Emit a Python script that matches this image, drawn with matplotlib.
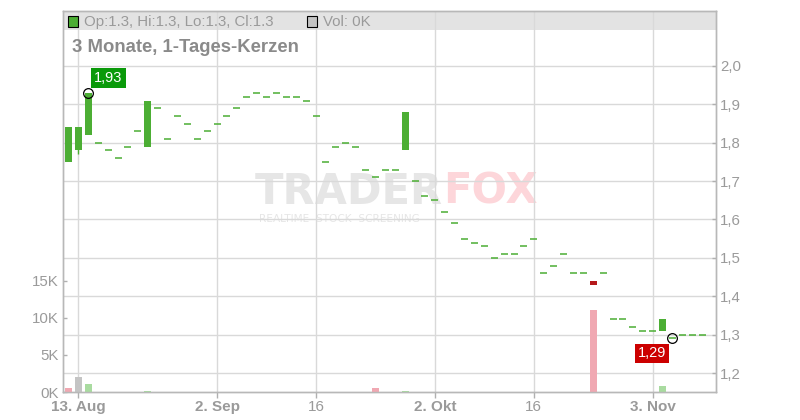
# -*- coding: utf-8 -*-
##### 3 Monate, 1-Tages-Kerzen #####

import matplotlib
matplotlib.use("Agg")
import matplotlib.pyplot as plt
from matplotlib.patches import Rectangle
from matplotlib.ticker import FuncFormatter

plt.rcParams['font.family'] = ['Liberation Sans', 'DejaVu Sans']

# Kursdaten (Handelstage, Index 0 = 12. Aug)
opens = [1.75, 1.78, 1.82, 1.80, 1.78, 1.76, 1.79, 1.83, 1.79, 1.89,
         1.81, 1.87, 1.85, 1.81, 1.83, 1.85, 1.87, 1.89, 1.92, 1.93,
         1.92, 1.93, 1.92, 1.92, 1.91, 1.87, 1.75, 1.79, 1.80, 1.79,
         1.73, 1.71, 1.73, 1.73, 1.78, 1.70, 1.66, 1.65, 1.62, 1.59,
         1.55, 1.54, 1.53, 1.50, 1.51, 1.51, 1.53, 1.55, 1.46, 1.48,
         1.51, 1.46, 1.46, 1.44, 1.46, 1.34, 1.34, 1.32, 1.31, 1.31,
         1.31, 1.29, 1.30, 1.30, 1.30]
closes = [1.84, 1.84, 1.93, 1.80, 1.78, 1.76, 1.79, 1.83, 1.91, 1.89,
          1.81, 1.87, 1.85, 1.81, 1.83, 1.85, 1.87, 1.89, 1.92, 1.93,
          1.92, 1.93, 1.92, 1.92, 1.91, 1.87, 1.75, 1.79, 1.80, 1.79,
          1.73, 1.71, 1.73, 1.73, 1.88, 1.70, 1.66, 1.65, 1.62, 1.59,
          1.55, 1.54, 1.53, 1.50, 1.51, 1.51, 1.53, 1.55, 1.46, 1.48,
          1.51, 1.46, 1.46, 1.43, 1.46, 1.34, 1.34, 1.32, 1.31, 1.31,
          1.34, 1.29, 1.30, 1.30, 1.30]
lows = [min(o, c) for o, c in zip(opens, closes)]
highs = [max(o, c) for o, c in zip(opens, closes)]
lows[1] = 1.77

# Volumen in Tausend
volumes = [0.5, 2.0, 1.05, 0, 0, 0, 0, 0, 0.12, 0,
           0, 0, 0, 0, 0, 0, 0, 0, 0, 0,
           0, 0, 0, 0, 0, 0, 0, 0, 0, 0,
           0, 0.5, 0, 0, 0.12, 0, 0, 0, 0, 0,
           0, 0, 0, 0, 0, 0, 0, 0, 0, 0,
           0, 0, 0, 11.0, 0, 0, 0, 0, 0, 0,
           0.8, 0, 0, 0, 0]

tick_idx = [1, 15, 25, 37, 47, 59]
tick_labels = ["13. Aug", "2. Sep", "16", "2. Okt", "16", "3. Nov"]
tick_bold = [True, True, False, True, False, True]

price_ticks = [1.2, 1.3, 1.4, 1.5, 1.6, 1.7, 1.8, 1.9, 2.0]
vol_ticks = [0, 5, 10, 15]

hi_idx, hi_label = 2, "1,93"
lo_idx, lo_label = 61, "1,29"

GREEN = "#4cae34"
RED = "#b5191b"
GRID = "#d9d9d9"
TXT = "#9a9a9a"

fig = plt.figure(figsize=(8, 4.2), dpi=100)
ax = fig.add_axes([63/800, 28/420, 653/800, 381/420])
ax2 = ax.twinx()

n = len(closes)
x = list(range(n))

# Kerzen
for i in x:
  o, c = opens[i], closes[i]
  col = GREEN if c >= o else RED
  if lows[i] < min(o, c) or highs[i] > max(o, c):
    ax.vlines(i, lows[i], highs[i], color=col, lw=1.0, zorder=3)
  if o == c:
    ax.hlines(c, i - 0.35, i + 0.35, color=col, lw=1.1, zorder=3)
  else:
    ax.bar(i, abs(c - o), bottom=min(o, c), width=0.7, color=col, zorder=3)

# Volumen
vcols = []
for i in x:
  if i > 0 and closes[i] > closes[i-1]:
    vcols.append("#a9dba0")
  elif i > 0 and closes[i] == closes[i-1]:
    vcols.append("#c4c4c4")
  else:
    vcols.append("#f0a8b2")
ax2.bar(x, volumes, width=0.7, color=vcols, zorder=2)

ax.set_xlim(-0.56, 65.4)
ax.set_ylim(1.1505, 2.1433)
ax2.set_ylim(0, 51.3)

ax.yaxis.tick_right()
ax2.yaxis.tick_left()
ax.set_yticks(price_ticks)
ax2.set_yticks(vol_ticks)
ax.yaxis.set_major_formatter(FuncFormatter(lambda v, p: ("%.1f" % v).replace(".", ",")))
ax2.yaxis.set_major_formatter(FuncFormatter(lambda v, p: "%dK" % v))
ax.set_xticks(tick_idx)
ax.set_xticklabels(tick_labels)
for lab, b in zip(ax.get_xticklabels(), tick_bold):
  lab.set_fontweight("bold" if b else "normal")

ax.set_axisbelow(True)
ax.grid(True, color=GRID, lw=1.0)
ax.tick_params(axis="y", direction="in", length=3, width=1, color="#b0b0b0",
               labelsize=10.8, labelcolor=TXT, pad=3)
ax2.tick_params(axis="y", direction="in", length=3, width=1, color="#b0b0b0",
                labelsize=10.8, labelcolor=TXT, pad=3)
ax.tick_params(axis="x", direction="out", length=4, width=1, color="#b0b0b0",
               labelsize=11, labelcolor=TXT, pad=2)
for a in (ax, ax2):
  for s in a.spines.values():
    s.set_color("#b8b8b8")
    s.set_linewidth(1.0)

# Legendenband
band_h = 19 / 381
ax.add_patch(Rectangle((0, 1 - band_h), 1, band_h, transform=ax.transAxes,
                       color="#e3e3e3", zorder=0.2, lw=0))
fig.add_artist(Rectangle((68/800, 1 - 27/420), 10/800, 11/420, transform=fig.transFigure,
                         facecolor=GREEN, edgecolor="black", lw=0.8))
fig.text(84/800, 1 - 22/420, "Op:1.3, Hi:1.3, Lo:1.3, Cl:1.3", color=TXT,
         fontsize=10.8, va="center", ha="left")
fig.add_artist(Rectangle((307/800, 1 - 27/420), 10/800, 11/420, transform=fig.transFigure,
                         facecolor="#c4c4c4", edgecolor="black", lw=0.8))
fig.text(323/800, 1 - 22/420, "Vol: 0K", color=TXT, fontsize=10.8, va="center", ha="left")

# Titel
fig.text(72/800, 1 - 48/420, "3 Monate, 1-Tages-Kerzen", color="#8a8a8a",
         fontsize=13.3, fontweight="bold", va="center", ha="left")

# Wasserzeichen
ax.text(0.5819, 0.526, "TRADER", transform=ax.transAxes, ha="right", va="center",
        fontsize=30, fontweight="bold", family="DejaVu Sans", color="#e6e6e6", zorder=0.1)
ax.text(0.5819, 0.526, "FOX", transform=ax.transAxes, ha="left", va="center",
        fontsize=30, fontweight="bold", family="DejaVu Sans", color="#fdd6da", zorder=0.1)
ax.text(0.4227, 0.454, "REALTIME  STOCK  SCREENING", transform=ax.transAxes, ha="center",
        va="center", fontsize=7.6, family="DejaVu Sans", color="#e6e6e6", zorder=0.1)

# Hoch / Tief Markierungen
ax.plot(hi_idx, closes[hi_idx], "o", ms=7, mfc="none", mec="black", mew=0.9, zorder=5)
ax.annotate(hi_label, (hi_idx, closes[hi_idx]), xytext=(6, 8), textcoords="offset pixels",
            ha="left", va="bottom", color="white", fontsize=10.5,
            bbox=dict(boxstyle="square,pad=0.2", fc="#0a9a0a", ec="none"), zorder=6)
ax.plot(lo_idx, closes[lo_idx], "o", ms=7, mfc="none", mec="black", mew=0.9, zorder=5)
ax.annotate(lo_label, (lo_idx, closes[lo_idx]), xytext=(-6, -8), textcoords="offset pixels",
            ha="right", va="top", color="white", fontsize=10.5,
            bbox=dict(boxstyle="square,pad=0.2", fc="#cc0000", ec="none"), zorder=6)

plt.savefig("out.png", dpi=100)
